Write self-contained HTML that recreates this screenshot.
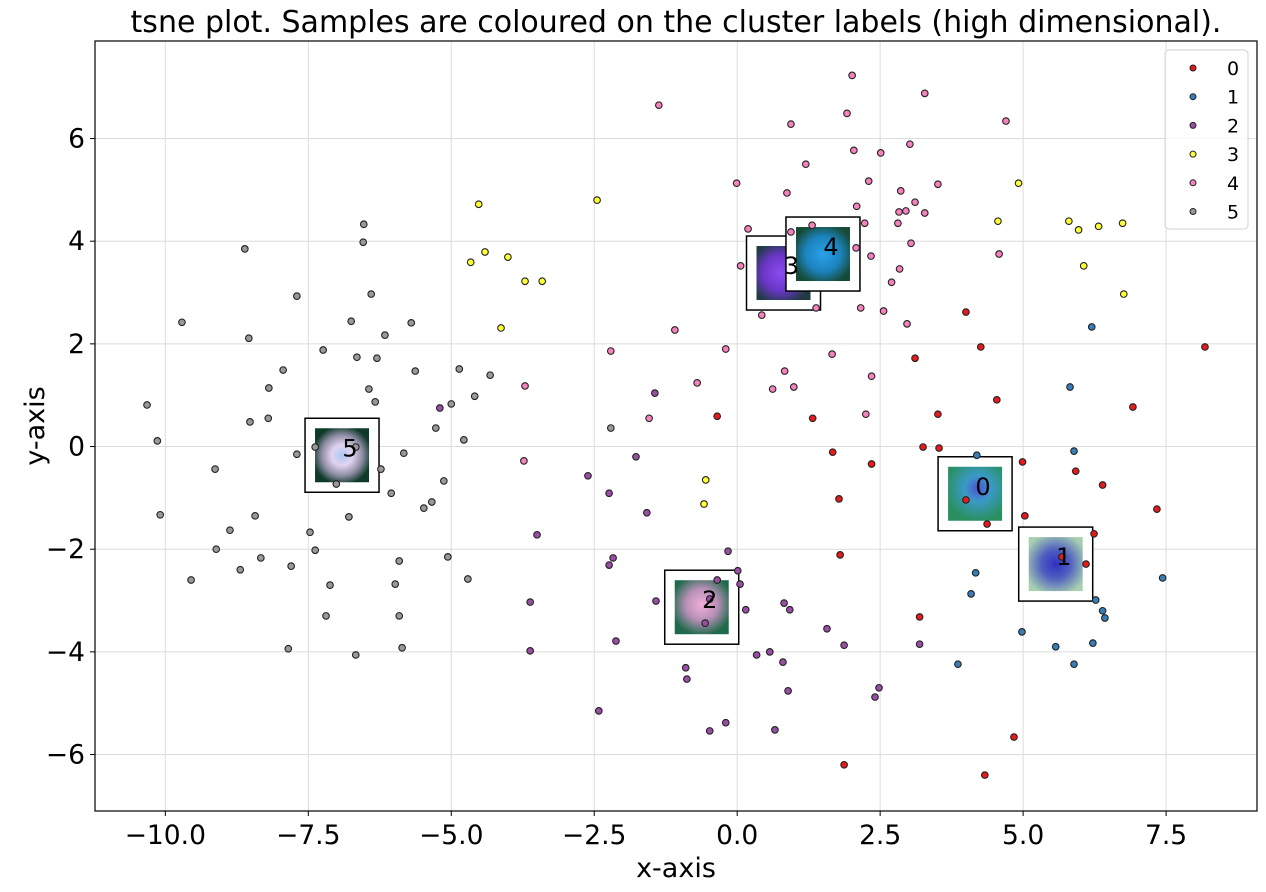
<!DOCTYPE html>
<html><head><meta charset="utf-8"><style>
html,body{margin:0;padding:0;background:#fff;}
svg{display:block;font-family:"DejaVu Sans","Liberation Sans",sans-serif;}
</style></head><body>
<svg id="chart" width="1266" height="892" viewBox="0 0 1266 892" xmlns="http://www.w3.org/2000/svg">
<defs>
<radialGradient id="g5" cx="50%" cy="50%" r="55%"><stop offset="0" stop-color="#a9c8f0"/><stop offset="0.35" stop-color="#e2d3f0"/><stop offset="0.7" stop-color="#8a8aa0"/><stop offset="1" stop-color="#0f3a2a"/></radialGradient>
<radialGradient id="g3" cx="45%" cy="50%" r="60%"><stop offset="0" stop-color="#8a4cf0"/><stop offset="0.55" stop-color="#6a36c8"/><stop offset="1" stop-color="#1f3a40"/></radialGradient>
<radialGradient id="g4" cx="50%" cy="50%" r="58%"><stop offset="0" stop-color="#2aa0e8"/><stop offset="0.55" stop-color="#1c84c0"/><stop offset="1" stop-color="#154a35"/></radialGradient>
<radialGradient id="g2" cx="50%" cy="45%" r="58%"><stop offset="0" stop-color="#f0b0d8"/><stop offset="0.5" stop-color="#b890b8"/><stop offset="1" stop-color="#1f6a4a"/></radialGradient>
<radialGradient id="g0" cx="55%" cy="40%" r="60%"><stop offset="0" stop-color="#5050d0"/><stop offset="0.4" stop-color="#3a9ac8"/><stop offset="1" stop-color="#2a9060"/></radialGradient>
<radialGradient id="g1" cx="50%" cy="50%" r="60%"><stop offset="0" stop-color="#3030c0"/><stop offset="0.45" stop-color="#5060c0"/><stop offset="1" stop-color="#a8d0b0"/></radialGradient>
</defs>
<g id="grid"></g>
<g id="annots"></g>
<g id="points"></g>
<g id="alabels"></g>
<rect x="95" y="41" width="1162" height="770" fill="none" stroke="#000" stroke-width="1.2"/>
<g id="ticks"></g>
<text x="676" y="32" font-size="30" text-anchor="middle">tsne plot. Samples are coloured on the cluster labels (high dimensional).</text>
<text x="676" y="877" font-size="27" text-anchor="middle">x-axis</text>
<text x="44" y="426" font-size="27" text-anchor="middle" transform="rotate(-90 44 426)">y-axis</text>
<g id="legend"></g>
</svg>
<script>
const xTicks=[-10,-7.5,-5,-2.5,0,2.5,5,7.5];
const yTicks=[-6,-4,-2,0,2,4,6];
const clusterLabels=["0","1","2","3","4","5"];
const clusterColors=["#e41a1c","#377eb8","#984ea3","#ffff33","#f781bf","#999999"];
const x0=[-0.35,1.32,3.11,3.51,1.67,3.25,3.53,2.35,1.78,1.80,3.19,1.87,4.00,4.26,4.54,6.92,8.18,4.99,5.92,6.39,7.34,4.00,4.37,5.03,6.24,5.68,6.10,4.84,4.33];
const y0=[0.59,0.55,1.72,0.63,-0.11,-0.01,-0.03,-0.34,-1.02,-2.11,-3.32,-6.20,2.62,1.94,0.91,0.77,1.94,-0.30,-0.48,-0.75,-1.22,-1.04,-1.51,-1.35,-1.70,-2.15,-2.29,-5.66,-6.40];
const x1=[6.20,5.82,4.19,5.89,4.17,4.09,7.44,6.27,6.39,6.43,4.98,5.57,6.22,3.86,5.89];
const y1=[2.33,1.16,-0.17,-0.09,-2.46,-2.87,-2.56,-2.99,-3.20,-3.34,-3.61,-3.90,-3.83,-4.24,-4.24];
const x2=[-1.44,-1.77,-2.61,-2.24,-1.58,-0.16,-2.17,-2.24,0.01,0.05,-0.35,-1.42,-0.48,0.15,0.82,0.92,-0.56,-2.12,1.57,1.87,3.19,0.34,0.57,0.80,-0.90,-0.88,0.89,2.48,2.41,-2.42,-0.20,-0.48,0.66,-3.50,-3.62,-3.62,-5.20];
const y2=[1.04,-0.20,-0.57,-0.91,-1.29,-2.04,-2.17,-2.31,-2.42,-2.68,-2.60,-3.01,-2.97,-3.18,-3.05,-3.18,-3.44,-3.79,-3.55,-3.87,-3.85,-4.06,-4.00,-4.20,-4.31,-4.53,-4.76,-4.70,-4.88,-5.15,-5.38,-5.54,-5.52,-1.72,-3.03,-3.98,0.75];
const x3=[-4.52,-4.41,-4.66,-4.01,-3.71,-3.41,-4.13,-2.45,-0.55,-0.58,4.92,4.56,5.80,5.97,6.32,6.74,6.06,6.76];
const y3=[4.72,3.79,3.59,3.69,3.22,3.22,2.31,4.80,-0.65,-1.12,5.13,4.39,4.39,4.22,4.29,4.35,3.52,2.97];
const x4=[2.01,3.28,-1.37,1.92,0.94,4.70,2.04,2.51,3.02,1.20,2.30,3.51,-0.01,0.87,2.86,3.11,2.09,2.83,2.95,3.28,2.23,2.81,0.19,0.94,1.31,3.04,2.08,2.34,0.06,2.84,2.70,1.38,2.16,2.56,0.43,2.97,-1.09,-2.21,-0.20,1.66,0.83,2.35,-0.70,0.62,0.99,-1.54,2.25,4.58,-3.71,-3.73];
const y4=[7.23,6.88,6.65,6.49,6.28,6.34,5.77,5.72,5.89,5.50,5.17,5.11,5.13,4.94,4.98,4.76,4.68,4.57,4.59,4.55,4.35,4.35,4.24,4.18,4.31,3.96,3.87,3.71,3.52,3.46,3.20,2.70,2.70,2.64,2.56,2.39,2.27,1.86,1.90,1.80,1.47,1.37,1.24,1.12,1.16,0.55,0.63,3.75,1.18,-0.28];
const x5=[-6.53,-6.54,-8.61,-7.70,-6.40,-9.71,-8.54,-6.75,-5.70,-6.16,-7.24,-6.65,-6.30,-7.94,-5.63,-4.86,-4.32,-8.19,-6.44,-4.59,-10.32,-6.33,-5.00,-8.52,-8.20,-5.27,-4.78,-10.14,-7.38,-6.67,-7.70,-5.83,-9.13,-6.23,-7.01,-6.05,-5.13,-5.34,-5.48,-10.09,-8.43,-6.79,-8.87,-7.47,-9.11,-7.38,-8.33,-5.91,-5.06,-8.69,-7.80,-9.55,-7.12,-5.98,-4.71,-7.19,-5.91,-7.85,-5.86,-6.67,-2.21];
const y5=[4.33,3.98,3.85,2.93,2.97,2.42,2.11,2.44,2.41,2.17,1.88,1.74,1.72,1.49,1.47,1.51,1.39,1.14,1.12,0.98,0.81,0.87,0.83,0.48,0.55,0.36,0.13,0.11,-0.01,-0.01,-0.15,-0.13,-0.44,-0.44,-0.73,-0.91,-0.67,-1.08,-1.20,-1.33,-1.35,-1.37,-1.63,-1.67,-2.00,-2.02,-2.17,-2.23,-2.15,-2.40,-2.33,-2.60,-2.70,-2.68,-2.58,-3.30,-3.30,-3.94,-3.92,-4.06,0.36];
const annotX=[4.16,5.57,-0.62,0.81,1.50,-6.91];
const annotY=[-0.92,-2.29,-3.13,3.38,3.75,-0.17];

const NS="http://www.w3.org/2000/svg";
const L=95,R=1257,T=41,B=811,XMIN=-11.23,XMAX=9.09,YMIN=-7.10,YMAX=7.90;
function sx(v){return L+(v-XMIN)/(XMAX-XMIN)*(R-L);}
function sy(v){return B-(v-YMIN)/(YMAX-YMIN)*(B-T);}
function mk(tag,attrs,parent){const e=document.createElementNS(NS,tag);for(const k in attrs)e.setAttribute(k,attrs[k]);parent.appendChild(e);return e;}
const grid=document.getElementById('grid'),ticks=document.getElementById('ticks');
xTicks.forEach(v=>{const X=sx(v);
 const g=mk('line',{x1:X,x2:X,y1:T,y2:B,stroke:'#dcdcdc','stroke-width':1},grid);
 
 
 const t=mk('line',{x1:X,x2:X,y1:B,y2:B+5,stroke:'#000','stroke-width':1},ticks);
 
 
 const tx=mk('text',{x:X,y:B+33,'font-size':26.5,'text-anchor':'middle'},ticks);
 tx.textContent=(v<0?'\u2212':'')+Math.abs(v).toFixed(1);
 
 
});
yTicks.forEach(v=>{const Y=sy(v);
 const g=mk('line',{x1:L,x2:R,y1:Y,y2:Y,stroke:'#dcdcdc','stroke-width':1},grid);
 
 
 const t=mk('line',{x1:L-5,x2:L,y1:Y,y2:Y,stroke:'#000','stroke-width':1},ticks);
 
 
 const tx=mk('text',{x:L-10,y:Y+9,'font-size':26.5,'text-anchor':'end'},ticks);
 tx.textContent=(v<0?'\u2212':'')+Math.abs(v);
 
 
});
const annots=document.getElementById('annots'),alabels=document.getElementById('alabels');
const grads=['g0','g1','g2','g3','g4','g5'];
const drawOrder=[5,0,1,2,3,4];
drawOrder.forEach(i=>{const X=sx(annotX[i]),Y=sy(annotY[i]);
 const b=mk('rect',{x:X-37,y:Y-37,width:74,height:74,fill:'#fff',stroke:'#000','stroke-width':1.5},annots);
 
 
 const im=mk('rect',{x:X-27,y:Y-27,width:54,height:54,fill:'url(#'+grads[i]+')'},annots);
 
 
});
const pts=document.getElementById('points');
const xs=[x0,x1,x2,x3,x4,x5],ys=[y0,y1,y2,y3,y4,y5];
xs.forEach((arr,c)=>{arr.forEach((v,j)=>{
 const p=mk('circle',{cx:sx(v),cy:sy(ys[c][j]),r:3.3,fill:clusterColors[c],stroke:'#222','stroke-width':1.1},pts);
 
 
});});
drawOrder.forEach(i=>{const X=sx(annotX[i]),Y=sy(annotY[i]);
 const t=mk('text',{x:X+8,y:Y+1,'font-size':24,'text-anchor':'middle'},alabels);
 t.textContent=clusterLabels[i];
 
 
});
const lg=document.getElementById('legend');
const lb=mk('rect',{x:1165,y:50,width:83,height:179,rx:4,fill:'#fff','fill-opacity':0.8,stroke:'#d0d0d0','stroke-width':1},lg);


clusterLabels.forEach((l,i)=>{const Y=68+i*28.7;
 const c=mk('circle',{cx:1193,cy:Y,r:3,fill:clusterColors[i],stroke:'#222','stroke-width':1},lg);
 
 
 const t=mk('text',{x:1233,y:Y+7,'font-size':19,'text-anchor':'middle'},lg);
 t.textContent=l;
 
 
});
</script>
</body></html>
